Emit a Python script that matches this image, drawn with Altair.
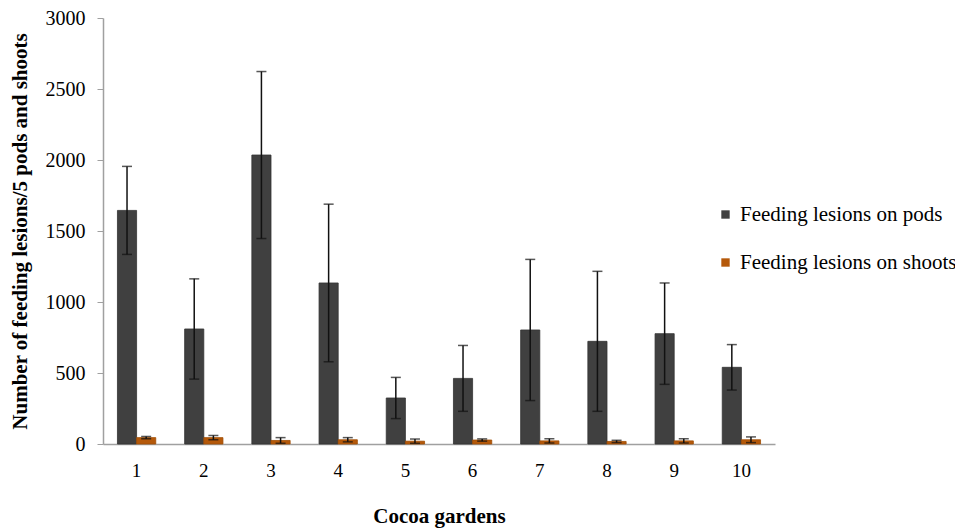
import altair as alt
import pandas as pd

gardens = [1, 2, 3, 4, 5, 6, 7, 8, 9, 10]
series_names = ["Feeding lesions on pods", "Feeding lesions on shoots"]
pods_mean = [1645, 810, 2035, 1134, 324, 462, 803, 723, 777, 540]
pods_err = [310, 353, 588, 555, 145, 232, 497, 493, 357, 160]
shoots_mean = [45, 45, 25, 30, 20, 28, 22, 18, 22, 30]
shoots_err = [8, 15, 20, 15, 15, 8, 15, 8, 15, 20]
y_ticks = [0, 500, 1000, 1500, 2000, 2500, 3000]
colors = ["#404040", "#B5590A"]

rows = []
for g, m, e in zip(gardens, pods_mean, pods_err):
    rows.append({"garden": g, "series": series_names[0], "value": m, "lower": m - e, "upper": m + e})
for g, m, e in zip(gardens, shoots_mean, shoots_err):
    rows.append({"garden": g, "series": series_names[1], "value": m, "lower": max(m - e, 0), "upper": m + e})
df = pd.DataFrame(rows)

FONT = "Liberation Serif"

x_enc = alt.X(
    "garden:O",
    scale=alt.Scale(paddingInner=0.43, paddingOuter=0.215),
    axis=alt.Axis(
        title="Cocoa gardens",
        labelAngle=0,
        ticks=False,
        domainColor="#A0A0A0",
        domainWidth=1.5,
        labelFont=FONT,
        labelFontSize=19,
        labelColor="#000000",
        labelPadding=17,
        titleFont=FONT,
        titleFontSize=21,
        titleFontWeight="bold",
        titleColor="#000000",
        titleY=72,
        titleBaseline="middle",
    ),
)
xoff = alt.XOffset("series:N", sort=series_names, scale=alt.Scale(paddingInner=0, paddingOuter=0))

y_scale = alt.Scale(domain=[0, 3000], nice=False)

bars = alt.Chart(df).mark_bar(strokeWidth=0.8).encode(
    x=x_enc,
    xOffset=xoff,
    y=alt.Y(
        "value:Q",
        scale=y_scale,
        axis=alt.Axis(
            values=y_ticks,
            format="d",
            grid=False,
            title="Number of feeding lesions/5 pods and shoots",
            domainColor="#A0A0A0",
            domainWidth=1.5,
            tickColor="#A0A0A0",
            tickSize=6,
            labelFont=FONT,
            labelFontSize=20,
            labelColor="#000000",
            labelPadding=12,
            titleFont=FONT,
            titleFontSize=21,
            titleFontWeight="bold",
            titleColor="#000000",
            titleX=-83,
            titleY=213,
            titleAngle=-90,
            titleBaseline="middle",
            titleAlign="center",
        ),
    ),
    color=alt.Color(
        "series:N",
        sort=series_names,
        scale=alt.Scale(domain=series_names, range=colors),
        legend=alt.Legend(
            title=None,
            orient="none",
            legendX=612,
            legendY=186,
            symbolType="square",
            symbolSize=70,
            symbolStrokeWidth=0,
            labelFont=FONT,
            labelFontSize=21,
            labelColor="#000000",
            labelLimit=400,
            rowPadding=26,
            labelOffset=4,
        ),
    ),
    stroke=alt.Color("series:N", sort=series_names,
                     scale=alt.Scale(domain=series_names, range=["#333333", "#A04E05"]),
                     legend=None),
)

rules = alt.Chart(df).mark_rule(color="#111111", strokeWidth=1.5).encode(
    x=alt.X("garden:O"),
    xOffset=xoff,
    y=alt.Y("lower:Q", scale=y_scale),
    y2="upper:Q",
)

caps_top = alt.Chart(df).mark_tick(color="#111111", thickness=1.5, size=10).encode(
    x=alt.X("garden:O"),
    xOffset=xoff,
    y=alt.Y("upper:Q", scale=y_scale),
)
caps_bot = alt.Chart(df).mark_tick(color="#111111", thickness=1.5, size=10).encode(
    x=alt.X("garden:O"),
    xOffset=xoff,
    y=alt.Y("lower:Q", scale=y_scale),
)

chart = (
    alt.layer(bars, rules, caps_top, caps_bot)
    .properties(
        width=672,
        height=426,
        autosize=alt.AutoSizeParams(type="none"),
        padding={"left": 95, "top": 10, "right": 180, "bottom": 86},
        background="#FFFFFF",
    )
    .configure_view(stroke=None)
    .configure_legend(labelFont=FONT)
)

chart.save("out.html", embed_options={"renderer": "svg", "actions": False})
